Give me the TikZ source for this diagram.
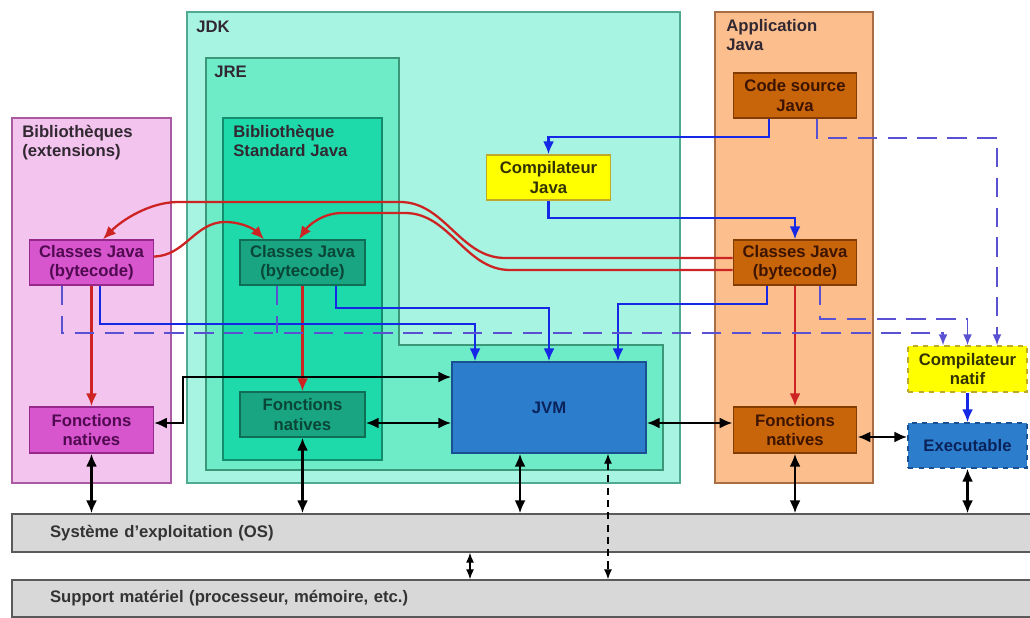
\documentclass[tikz,border=0pt]{standalone}
\usepackage{fontspec}
\setmainfont{Liberation Sans}
\usetikzlibrary{arrows.meta,calc}
\definecolor{extfill}{RGB}{243,196,238}
\definecolor{extline}{RGB}{170,90,160}
\definecolor{extnode}{RGB}{215,85,205}
\definecolor{extnodeline}{RGB}{150,40,140}
\definecolor{extnodetext}{RGB}{80,10,80}
\definecolor{jdkfill}{RGB}{168,244,226}
\definecolor{jdkline}{RGB}{80,170,145}
\definecolor{jrefill}{RGB}{110,236,200}
\definecolor{jreline}{RGB}{60,150,120}
\definecolor{stdfill}{RGB}{30,218,170}
\definecolor{stdline}{RGB}{20,140,110}
\definecolor{stdnode}{RGB}{25,165,130}
\definecolor{stdnodeline}{RGB}{15,110,85}
\definecolor{stdnodetext}{RGB}{10,70,55}
\definecolor{jvmfill}{RGB}{45,125,205}
\definecolor{jvmline}{RGB}{25,80,145}
\definecolor{jvmtext}{RGB}{10,35,90}
\definecolor{compfill}{RGB}{255,255,0}
\definecolor{compline}{RGB}{190,170,40}
\definecolor{comptext}{RGB}{50,50,0}
\definecolor{appfill}{RGB}{251,190,140}
\definecolor{appline}{RGB}{170,110,70}
\definecolor{appnode}{RGB}{200,100,10}
\definecolor{appnodeline}{RGB}{130,60,0}
\definecolor{appnodetext}{RGB}{60,20,0}
\definecolor{barfill}{RGB}{216,216,216}
\definecolor{barline}{RGB}{90,90,90}
\definecolor{titletext}{RGB}{50,40,50}
\definecolor{redline}{RGB}{205,35,35}
\definecolor{blueline}{RGB}{20,40,230}
\definecolor{dashblue}{RGB}{90,80,210}
\tikzset{
    block/.style = {draw, rectangle, line width=0.8pt,
        minimum height=0.9cm,
        minimum width=2.47cm, align=center, inner sep=1pt,
        font=\bfseries\fontsize{9.5}{11}\selectfont},
    extblock/.style = {block, fill=extnode, draw=extnodeline, text=extnodetext},
    stdblock/.style = {block, fill=stdnode, draw=stdnodeline, text=stdnodetext, minimum width=2.5cm},
    appblock/.style = {block, fill=appnode, draw=appnodeline, text=appnodetext},
    compblock/.style = {block, fill=compfill, draw=compline, text=comptext},
    jvmblock/.style = {block, fill=jvmfill, draw=jvmline, text=jvmtext},
    bar/.style = {draw=barline, fill=barfill, line width=0.8pt, minimum height=0.76cm,
        text width=18.92cm, inner xsep=0.76cm, align=left,
        font=\bfseries\fontsize{9.5}{11}\selectfont, text=black!80},
    area/.style = {line width=0.6pt},
    title/.style = {anchor=north west, align=left, inner sep=0pt,
        font=\bfseries\fontsize{9.5}{11}\selectfont, text=titletext},
    redarrow/.style = {draw=redline, line width=1.3pt, -{Latex[length=2.6mm,width=2.2mm]}},
    bluearrow/.style = {draw=blueline, line width=1.3pt, -{Latex[length=2.6mm,width=2.2mm]}},
    dashline/.style = {draw=dashblue, line width=1pt, dash pattern=on 11pt off 6pt},
    dasharrow/.style = {dashline, -{Latex[length=2.2mm,width=1.8mm]}},
    blkarrow/.style = {draw=black, line width=1.3pt, {Latex[length=2.6mm,width=2.2mm]}-{Latex[length=2.6mm,width=2.2mm]}},
    thinarrow/.style = {draw=black, line width=0.7pt, {Latex[length=2mm,width=1.6mm]}-{Latex[length=2mm,width=1.6mm]}}
}
\begin{document}
\begin{tikzpicture}[x=0.02cm, y=-0.02cm]
        \useasboundingbox (0,0) rectangle (1030,618);
        \clip (0,0) rectangle (1030,618);
        \draw[area, fill=extfill, draw=extline] (12,118) rectangle (171,483);
        \node [title] (exttitle) at (22,125) {Biblioth\`eques\\(extensions)};
        \draw[area, fill=jdkfill, draw=jdkline] (187,12) rectangle (680,483);
        \node [title] (jdktitle) at (196,21) {JDK};
        \draw[area, fill=jrefill, draw=jreline] (206,58) -- (399,58) -- (399,345) -- (663,345) -- (663,470) -- (206,470) -- cycle;
        \node [title] (jretitle) at (214,66) {JRE};
        \draw[area, fill=stdfill, draw=stdline] (223,118) rectangle (382,460);
        \node [title] (stdtitle) at (233,125) {Biblioth\`eque\\Standard Java};
        \draw[area, fill=appfill, draw=appline] (715,12) rectangle (873,483);
        \node [title] (apptitle) at (726,19) {Application\\Java};
        \node [extblock] (extcls) at (91.5,262.5) {Classes Java\\(bytecode)};
        \node [extblock, minimum height=0.92cm] (extnat) at (91.5,430) {Fonctions\\natives};
        \node [stdblock] (stdcls) at (302.5,262.5) {Classes Java\\(bytecode)};
        \node [stdblock] (stdnat) at (302.5,414.5) {Fonctions\\natives};
        \node [compblock] (javac) at (548.5,177.5) {Compilateur\\Java};
        \node [jvmblock, minimum width=3.88cm, minimum height=1.82cm] (jvm) at (549,407.5) {JVM};
        \node [appblock] (src) at (795,95.5) {Code source\\Java};
        \node [appblock] (appcls) at (795,262.5) {Classes Java\\(bytecode)};
        \node [appblock, minimum height=0.92cm] (appnat) at (795,430) {Fonctions\\natives};
        \node [compblock, dashed, minimum width=2.38cm, minimum height=0.92cm] (natc) at (967.5,369) {Compilateur\\natif};
        \node [jvmblock, dashed, minimum width=2.38cm] (exe) at (967.5,445.5) {Executable};
        \node [bar] (os) at (523,533) {Syst\`eme d'exploitation (OS)};
        \node [bar, minimum height=0.74cm] (hw) at (523,598.5) {Support mat\'eriel (processeur, m\'emoire, etc.)};
        \draw[redarrow] ([yshift=0.09cm]appcls.west) -- (505,258) .. controls (460,258) and (445,202) .. (400,202) -- (178,202) .. controls (150,202) and (122,220) .. ([xshift=0.23cm]extcls.north);
        \draw[redarrow] ([yshift=-0.15cm]appcls.west) -- (510,270) .. controls (465,270) and (450,213) .. (405,213) -- (342,213) .. controls (322,213) and (308,226) .. ([xshift=-0.07cm]stdcls.north);
        \draw[redarrow] ([yshift=0.12cm]extcls.east) .. controls (185,256) and (195,222) .. (225,222) .. controls (243,222) and (255,230) .. ([xshift=-0.77cm]stdcls.north);
        \draw[redarrow] (extcls) -- (extnat);
        \draw[redarrow] (stdcls) -- (stdnat);
        \draw[redarrow] (appcls) -- (appnat);
        \draw[bluearrow] ([xshift=-0.52cm]src.south) -- ++(0,18) -| (javac.north);
        \draw[bluearrow] (javac.south) -- ++(0,17) -| (appcls.north);
        \draw[bluearrow] ([xshift=0.17cm]extcls.south) -- ++(0,38) -| ([xshift=-1.48cm]jvm.north);
        \draw[bluearrow] ([xshift=0.67cm]stdcls.south) -- ++(0,22) -| (jvm.north);
        \draw[bluearrow] ([xshift=-0.56cm]appcls.south) -- ++(0,18) -| ([xshift=1.38cm]jvm.north);
        \draw[bluearrow] (natc) -- (exe);
        \draw[dashline] ([xshift=-0.51cm]stdcls.south) -- ++(0,47);
        \draw[dasharrow] ([xshift=-0.59cm]extcls.south) -- ++(0,47) -| ([xshift=-0.49cm]natc.north);
        \draw[dasharrow] ([xshift=0.5cm]appcls.south) -- ++(0,33) -| (natc.north);
        \draw[dasharrow] ([xshift=0.44cm]src.south) -- ++(0,19) -| ([xshift=0.59cm]natc.north);
        \draw[blkarrow] ([yshift=0.14cm]extnat.east) -- ++(29,0) |- ([yshift=0.61cm]jvm.west);
        \draw[blkarrow] ([yshift=-0.17cm]stdnat.east) -- ([yshift=-0.17cm]stdnat.east -| jvm.west);
        \draw[blkarrow] ([yshift=0.14cm]appnat.west) -- ([yshift=0.14cm]appnat.west -| jvm.east);
        \draw[blkarrow] ([yshift=-0.14cm]appnat.east) -- ([yshift=-0.14cm]appnat.east -| exe.west);
        \draw[blkarrow] (extnat.south) -- (extnat.south |- os.north);
        \draw[blkarrow] (stdnat.south) -- (stdnat.south |- os.north);
        \draw[blkarrow] ([xshift=-0.58cm]jvm.south) -- ([xshift=-0.58cm]jvm.south |- os.north);
        \draw[blkarrow] (appnat.south) -- (appnat.south |- os.north);
        \draw[blkarrow] (exe.south) -- (exe.south |- os.north);
        \draw[thinarrow] ([xshift=-1.06cm]os.south) -- ([xshift=-1.06cm]hw.north);
        \draw[thinarrow, dash pattern=on 4pt off 3pt] ([xshift=1.18cm]jvm.south) -- ([xshift=1.18cm]jvm.south |- hw.north);
    \end{tikzpicture}
\end{document}
